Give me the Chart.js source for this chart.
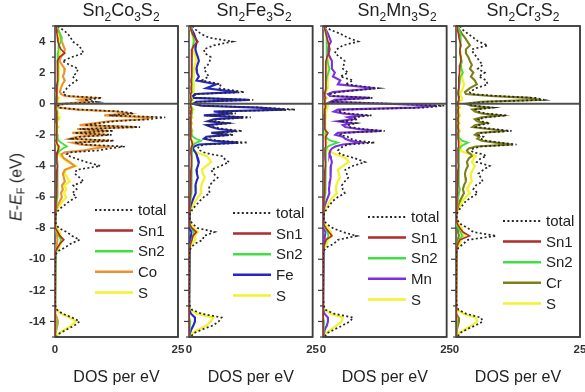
<!DOCTYPE html>
<html><head><meta charset="utf-8">
<script src="https://cdn.jsdelivr.net/npm/chart.js@4.4.1/dist/chart.umd.min.js"></script>
<style>
html,body{margin:0;padding:0;background:#fff;overflow:hidden;width:585px;height:392px;}
#wrap{position:relative;width:585px;height:392px;overflow:hidden;font-family:'Liberation Sans',Arial,sans-serif;color:#222;}
canvas{position:absolute;top:0;}
.ttl{position:absolute;top:-1px;font-size:18px;line-height:22px;white-space:nowrap;transform:translateX(-50%);}
.ttl sub{font-size:12px;vertical-align:baseline;position:relative;top:5px;}
#ylab{position:absolute;left:17px;top:187px;transform:translate(-50%,-50%) rotate(-90deg);font-size:16px;white-space:nowrap;line-height:20px;}
#ylab sub{font-size:11px;vertical-align:baseline;position:relative;top:3px;}
</style></head>
<body><div id="wrap">
<canvas id="p1" width="192" height="392" style="left:0px"></canvas>
<canvas id="p2" width="150" height="392" style="left:175px"></canvas>
<canvas id="p3" width="150" height="392" style="left:309px"></canvas>
<canvas id="p4" width="160" height="392" style="left:442px"></canvas>
<div class="ttl" style="left:121px">Sn<sub>2</sub>Co<sub>3</sub>S<sub>2</sub></div>
<div class="ttl" style="left:254px">Sn<sub>2</sub>Fe<sub>3</sub>S<sub>2</sub></div>
<div class="ttl" style="left:397px">Sn<sub>2</sub>Mn<sub>3</sub>S<sub>2</sub></div>
<div class="ttl" style="left:523px">Sn<sub>2</sub>Cr<sub>3</sub>S<sub>2</sub></div>
<div id="ylab"><i>E</i>-<i>E</i><sub>F</sub> (eV)</div>
</div>
<script>
// Energy grid (eV), shared by all series
const energy = [
 5,4.75,4.5,4.25,4,3.75,3.5,3.25,3,2.75,2.5,2.25,2,1.75,1.5,1.25,1,0.75,
 0.625,0.5,0.375,0.25,0.125,0,-0.125,-0.25,-0.375,-0.5,-0.625,-0.75,-0.875,-1,-1.125,-1.25,-1.375,-1.5,-1.625,-1.75,-1.875,-2,-2.125,-2.25,-2.375,-2.5,-2.625,-2.75,-2.875,-3,-3.125,-3.25,-3.375,
 -3.5,-3.75,-4,-4.25,-4.5,-4.75,-5,-5.25,-5.5,-5.75,-6,-6.25,-6.5,-6.75,-7,-7.25,-7.5,-7.75,-8,-8.25,-8.5,-8.75,-9,-9.25,-9.5,-9.75,
 -10.5,-11.5,-12.5,-13,
 -13.25,-13.5,-13.75,-14,-14.25,-14.5,-14.75,-15];

const xTicks = [0, 25];

// ---- Sn2Co3S2 ----
const coTotal = [
 0.6,1.6,2.6,3.2,3.6,4.8,5.4,5.8,3.4,1.5,3.0,4.7,4.4,3.6,4.4,3.2,2.4,1.8,
 1.6,2.5,9.5,6.0,8.5,2.0,0.6,0.8,5.0,13.5,16.0,11.0,22.4,19.0,12.0,9.0,6.0,17.3,5.0,11.9,4.0,11.5,5.0,3.5,12.0,4.0,6.0,14.2,11.0,9.0,3.0,2.4,3.0,
 4.0,6.4,9.2,4.4,4.0,5.0,5.8,3.7,4.4,3.5,4.4,3.0,2.0,1.0,0.3,0.1,0.1,0.2,0.8,2.4,3.5,5.0,3.2,2.0,0.5,0.1,
 0,0,0,0.1,
 0.4,1.5,3.5,5.0,4.0,2.5,1.0,0.3];
const coSn1 = [
 0.2,0.3,0.4,0.5,0.6,0.8,1.2,2.0,0.9,0.5,0.5,0.6,0.6,0.5,0.5,0.4,0.4,0.3,
 0.3,0.3,0.4,0.3,0.3,0.2,0.1,0.1,0.2,0.3,0.3,0.3,0.4,0.4,0.3,0.3,0.3,0.4,0.3,0.3,0.3,0.4,0.3,0.3,0.4,0.4,0.5,0.8,0.7,0.6,0.4,0.3,0.3,
 0.3,0.4,0.5,0.4,0.3,0.3,0.3,0.3,0.3,0.3,0.3,0.2,0.2,0.1,0,0,0,0,0.2,0.6,1.0,1.8,1.0,0.5,0.1,0,
 0,0,0,0,
 0,0.05,0.1,0.15,0.1,0.05,0,0];
const coSn2 = [
 0.3,0.6,1.0,1.4,1.2,0.8,0.7,0.6,0.6,0.5,0.5,0.6,0.6,0.5,0.5,0.5,0.4,0.4,
 0.4,0.4,0.5,0.4,0.4,0.3,0.2,0.2,0.3,0.4,0.4,0.4,0.5,0.5,0.4,0.4,0.4,0.5,0.4,0.4,0.4,0.5,0.5,0.6,0.8,1.2,1.8,2.4,1.6,1.0,0.7,0.5,0.4,
 0.4,0.5,0.6,0.5,0.5,0.5,0.6,0.5,0.5,0.5,0.5,0.4,0.3,0.2,0.1,0,0,0,0.2,0.5,0.8,1.2,1.0,0.6,0.2,0,
 0,0,0,0,
 0,0.05,0.15,0.25,0.2,0.1,0.05,0];
const coCo = [
 0.3,0.7,1.0,1.2,1.4,1.7,2.0,1.8,1.2,0.9,1.4,2.0,1.9,1.6,2.0,1.5,1.2,1.0,
 1.2,2.0,7.8,5.0,6.5,1.5,0.4,0.6,4.5,12.5,15.0,10.0,19.5,18.0,11.0,8.0,5.0,16.5,4.5,11.0,3.5,10.5,4.5,3.0,11.0,3.5,5.0,10.8,8.0,6.0,2.0,1.3,1.5,
 1.8,3.0,4.0,2.0,1.6,1.8,2.0,1.4,1.6,1.2,1.4,1.0,0.6,0.3,0.1,0,0,0,0.1,0.3,0.4,0.5,0.4,0.3,0.1,0,
 0,0,0,0,
 0.05,0.2,0.4,0.6,0.5,0.3,0.1,0];
const coS = [
 0.3,0.5,0.7,0.8,0.8,0.9,1.0,0.9,0.7,0.5,0.7,0.9,0.8,0.7,0.8,0.6,0.5,0.4,
 0.3,0.4,0.8,0.6,0.7,0.3,0.1,0.1,0.3,0.6,0.7,0.5,0.9,0.8,0.5,0.4,0.3,0.7,0.3,0.5,0.3,0.5,0.3,0.3,0.6,0.3,0.4,0.9,0.8,0.8,0.6,0.8,1.2,
 1.6,2.6,4.2,2.2,2.0,2.5,3.0,1.9,2.3,1.8,2.3,1.6,1.0,0.5,0.1,0,0,0.1,0.4,0.9,1.2,1.4,1.2,0.8,0.3,0,
 0,0,0,0,
 0.3,1.2,3.0,4.2,3.4,2.1,0.8,0.2];

// ---- Sn2Fe3S2 ----
const feTotal = [
 0.7,1.4,2.4,4.0,8.8,5.0,3.0,3.2,4.4,4.2,3.8,3.0,3.5,4.0,2.6,6.5,6.0,11.2,
 1.5,1.0,1.2,13.0,2.0,1.0,3.0,15.0,21.5,6.0,9.5,3.5,12.5,5.8,4.4,8.5,4.0,5.0,7.0,10.8,5.0,9.0,4.0,3.5,6.0,11.9,3.0,2.0,1.8,2.2,3.0,4.5,6.8,
 7.0,8.1,6.4,4.5,5.0,5.8,4.8,4.2,4.0,4.2,3.0,2.2,1.5,0.8,0.3,0.1,0.2,0.8,1.8,5.2,3.0,2.8,1.2,0.4,0.1,0,
 0,0,0,0.2,
 0.6,2.5,6.6,6.0,4.9,2.8,1.0,0.3];
const feSn1 = [
 0.2,0.4,0.7,1.2,1.8,1.0,0.6,0.5,0.6,0.6,0.5,0.5,0.5,0.5,0.4,0.5,0.4,0.5,
 0.3,0.3,0.3,0.5,0.3,0.2,0.3,0.4,0.5,0.3,0.4,0.3,0.4,0.3,0.3,0.4,0.3,0.3,0.4,0.4,0.3,0.4,0.3,0.4,0.5,0.6,0.7,0.5,0.4,0.4,0.4,0.4,0.5,
 0.5,0.5,0.5,0.4,0.4,0.4,0.3,0.3,0.3,0.3,0.2,0.2,0.1,0.1,0,0,0,0.2,0.6,1.5,0.8,0.6,0.3,0.1,0,0,
 0,0,0,0,
 0,0.05,0.1,0.15,0.1,0.05,0,0];
const feSn2 = [
 0.3,0.5,0.7,0.9,1.0,0.8,0.6,0.6,0.6,0.6,0.6,0.5,0.5,0.6,0.5,0.6,0.5,0.6,
 0.4,0.4,0.4,0.6,0.4,0.3,0.3,0.5,0.6,0.4,0.5,0.4,0.5,0.4,0.4,0.5,0.4,0.4,0.5,0.5,0.5,0.6,0.8,1.4,2.4,1.5,0.9,0.7,0.6,0.5,0.5,0.5,0.5,
 0.5,0.6,0.6,0.5,0.5,0.5,0.5,0.5,0.5,0.5,0.4,0.3,0.2,0.1,0,0,0,0.2,0.5,1.0,0.8,0.6,0.3,0.1,0,0,
 0,0,0,0,
 0,0.05,0.2,0.25,0.2,0.1,0.05,0];
const feFe = [
 0.3,0.6,1.0,1.3,1.6,1.4,1.3,1.5,1.8,2.0,1.7,1.5,1.6,2.0,1.5,5.5,3.5,9.8,
 1.2,0.8,1.0,12.0,1.5,0.8,2.5,14.0,19.5,5.0,8.5,3.0,11.0,5.0,3.8,7.5,3.5,4.5,6.0,9.5,4.5,8.0,3.5,3.0,5.0,10.0,2.0,1.0,0.8,1.0,1.3,1.5,1.6,
 1.8,2.0,1.8,1.5,1.6,1.8,1.5,1.3,1.3,1.4,1.0,0.7,0.4,0.2,0.1,0,0,0.1,0.2,0.5,0.4,0.3,0.2,0.1,0,0,
 0,0,0,0,
 0.1,0.4,1.2,1.2,0.9,0.5,0.2,0.05];
const feS = [
 0.2,0.4,0.6,0.8,1.0,0.9,0.9,1.1,1.3,1.4,1.2,1.0,0.9,1.0,0.8,1.0,0.9,1.0,
 0.4,0.3,0.3,0.8,0.3,0.2,0.3,0.7,0.9,0.4,0.6,0.3,0.7,0.4,0.4,0.6,0.4,0.4,0.5,0.7,0.4,0.6,0.4,0.4,0.6,0.9,0.5,0.6,0.7,0.9,1.4,2.5,3.6,
 4.0,4.5,3.5,2.6,2.8,3.2,2.8,2.5,2.4,2.5,1.8,1.3,0.9,0.5,0.1,0,0.1,0.4,1.0,1.8,1.2,1.3,0.6,0.2,0,0,
 0,0,0,0,
 0.3,1.6,4.9,4.4,3.6,2.0,0.7,0.2];

// ---- Sn2Mn3S2 ----
const mnTotal = [
 0.5,1.5,3.5,5.0,7.1,4.0,2.8,2.4,3.4,4.4,4.2,4.0,5.1,3.5,6.1,4.5,11.2,3.0,
 1.5,2.0,10.0,3.0,2.0,14.0,24.5,20.5,4.0,3.0,5.0,9.8,6.0,7.0,4.0,6.8,5.0,5.5,8.0,12.5,4.0,3.5,5.0,5.5,7.0,10.5,5.0,4.0,3.5,3.0,3.2,3.5,5.0,
 6.4,8.5,6.0,4.5,4.8,5.1,4.4,3.8,4.0,4.4,3.0,2.0,1.4,0.8,0.3,0.1,0.2,0.8,2.0,4.0,6.8,3.0,2.2,0.6,0.1,0,
 0,0,0,0.2,
 0.5,2.2,6.1,5.4,4.0,2.4,0.9,0.3];
const mnSn1 = [
 0.2,0.4,0.6,0.8,1.0,1.2,1.4,1.2,0.8,0.6,0.6,0.6,0.6,0.5,0.5,0.5,0.6,0.4,
 0.3,0.3,0.5,0.3,0.3,0.4,0.5,0.5,0.3,0.3,0.3,0.4,0.3,0.4,0.3,0.4,0.3,0.4,0.4,0.6,1.0,0.8,0.5,0.5,0.6,0.6,0.5,0.5,0.4,0.4,0.4,0.4,0.4,
 0.4,0.5,0.5,0.4,0.4,0.4,0.3,0.3,0.3,0.3,0.2,0.2,0.1,0.1,0,0,0,0.2,0.6,1.2,1.8,0.6,0.3,0.1,0,0,
 0,0,0,0,
 0,0.05,0.1,0.15,0.1,0.05,0,0];
const mnSn2 = [
 0.3,0.5,0.7,0.8,0.8,0.7,0.7,0.7,0.8,0.9,1.1,1.3,1.1,0.8,0.7,0.6,0.7,0.5,
 0.4,0.4,0.5,0.4,0.4,0.4,0.5,0.5,0.4,0.3,0.4,0.4,0.4,0.4,0.4,0.4,0.4,0.4,0.4,0.5,0.5,0.6,0.7,0.9,1.6,3.0,1.8,1.0,0.7,0.6,0.5,0.5,0.5,
 0.5,0.6,0.6,0.5,0.5,0.5,0.5,0.5,0.5,0.5,0.4,0.3,0.2,0.1,0,0,0,0.2,0.5,0.9,1.1,0.7,0.4,0.1,0,0,
 0,0,0,0,
 0,0.05,0.2,0.25,0.2,0.1,0.05,0];
const mnMn = [
 0.2,0.6,1.0,1.3,1.6,1.2,1.0,1.0,1.4,1.8,1.8,1.8,2.4,2.0,3.5,3.0,10.6,2.0,
 1.0,1.4,9.5,2.4,1.5,13.0,23.0,18.5,3.0,2.2,4.0,8.0,5.0,6.0,3.0,5.8,4.0,4.5,7.0,11.8,3.0,2.5,4.0,4.5,5.5,8.0,4.0,2.5,1.8,1.5,1.4,1.3,1.5,
 1.6,1.8,1.6,1.5,1.6,1.5,1.4,1.3,1.2,1.3,1.0,0.7,0.4,0.2,0.1,0,0,0.1,0.2,0.5,0.4,0.3,0.2,0.1,0,0,
 0,0,0,0,
 0.1,0.3,1.0,1.0,0.8,0.4,0.2,0.05];
const mnS = [
 0.2,0.4,0.6,0.8,1.0,0.9,1.0,1.1,1.2,1.1,1.0,1.0,1.0,0.9,1.0,0.9,1.0,0.6,
 0.4,0.4,0.8,0.4,0.3,0.6,1.0,0.9,0.3,0.3,0.4,0.6,0.5,0.5,0.4,0.5,0.4,0.4,0.5,0.7,0.4,0.4,0.5,0.5,0.6,0.8,0.6,0.6,0.8,1.0,1.6,2.6,3.6,
 4.6,5.2,4.0,3.0,3.2,3.4,3.0,2.7,2.6,2.8,2.0,1.4,1.0,0.5,0.1,0,0.1,0.4,1.0,1.6,1.8,1.0,0.8,0.3,0,0,
 0,0,0,0,
 0.3,1.5,4.0,3.8,2.8,1.7,0.6,0.2];

// ---- Sn2Cr3S2 ----
const crTotal = [
 0.8,1.4,2.4,3.5,4.5,6.4,3.2,3.5,4.2,4.7,5.4,4.4,5.8,4.6,6.1,6.4,4.0,2.8,
 3.0,8.5,16.0,17.8,6.0,2.5,3.5,7.5,4.0,4.5,6.0,10.2,6.0,4.5,5.0,6.8,4.5,4.0,7.5,11.2,5.0,4.5,5.5,5.0,6.0,9.0,12.2,5.0,3.5,3.0,3.5,5.5,6.1,
 5.0,4.2,6.8,5.5,4.5,5.0,5.4,4.0,3.5,4.4,3.2,2.0,1.4,0.8,0.3,0.1,0.3,1.0,2.4,3.5,8.1,2.4,1.5,0.5,0.1,0,
 0,0,0,0.2,
 0.5,2.0,5.0,5.4,4.0,2.2,0.8,0.3];
const crSn1 = [
 0.2,0.3,0.5,0.6,0.8,1.0,0.8,0.8,1.0,1.0,0.8,0.7,0.7,0.6,0.6,0.6,0.5,0.4,
 0.4,0.5,0.6,0.6,0.4,0.3,0.4,0.5,0.4,0.4,0.4,0.5,0.4,0.4,0.4,0.5,0.4,0.4,0.4,0.5,0.4,0.4,0.4,0.4,0.5,0.5,0.6,0.5,0.4,0.4,0.4,0.4,0.4,
 0.4,0.4,0.5,0.4,0.4,0.4,0.3,0.3,0.3,0.3,0.2,0.2,0.1,0.1,0,0,0,0.3,0.8,1.4,2.7,0.8,0.4,0.1,0,0,
 0,0,0,0,
 0,0.05,0.1,0.15,0.1,0.05,0,0];
const crSn2 = [
 0.3,0.6,0.9,1.0,0.9,0.8,0.8,0.8,0.9,1.2,1.0,1.1,1.4,0.9,0.8,0.7,0.6,0.5,
 0.5,0.5,0.6,0.6,0.5,0.4,0.4,0.5,0.4,0.4,0.5,0.5,0.5,0.4,0.4,0.5,0.4,0.4,0.5,0.5,0.5,0.5,0.6,0.8,1.2,2.4,1.6,1.0,0.7,0.6,0.6,0.5,0.5,
 0.5,0.6,0.6,0.6,0.6,0.6,0.6,0.6,0.8,0.6,0.5,0.4,0.3,0.2,0,0,0,0.2,0.5,0.9,1.3,0.6,0.4,0.1,0,0,
 0,0,0,0,
 0,0.05,0.2,0.25,0.2,0.1,0.05,0];
const crCr = [
 0.3,0.7,1.2,1.8,2.3,2.8,2.0,2.0,2.5,2.8,3.2,2.8,3.5,3.0,3.8,4.2,2.8,1.8,
 2.0,7.0,14.9,16.6,5.0,2.0,3.0,6.8,3.3,3.8,5.2,9.0,5.2,3.8,4.3,6.0,3.8,3.3,6.5,10.0,4.3,3.8,4.7,4.3,5.2,8.0,11.2,4.0,2.6,2.2,2.4,3.0,3.2,
 2.6,2.2,2.4,2.0,1.8,1.9,2.0,1.6,1.4,1.6,1.2,0.8,0.5,0.3,0.1,0,0,0.1,0.3,0.4,0.6,0.3,0.2,0.1,0,0,
 0,0,0,0,
 0.05,0.2,0.5,0.6,0.4,0.2,0.1,0];
const crS = [
 0.2,0.4,0.6,0.7,0.8,0.9,0.8,0.9,1.0,1.0,1.1,1.0,1.1,1.2,1.4,1.6,1.4,1.0,
 0.8,1.0,1.2,1.2,0.6,0.4,0.6,0.8,0.5,0.5,0.6,0.8,0.6,0.5,0.6,0.7,0.5,0.5,0.6,0.8,0.5,0.5,0.6,0.6,0.7,0.9,1.0,0.8,0.8,1.0,1.6,3.2,4.0,
 3.6,3.2,3.8,3.4,3.0,3.0,3.2,2.6,2.2,2.8,2.0,1.3,0.9,0.5,0.1,0,0.1,0.5,1.2,1.2,1.8,1.0,0.8,0.3,0,0,
 0,0,0,0,
 0.3,1.5,4.0,4.3,3.2,1.8,0.6,0.2];

// ---- styles ----
const FONT = "'Liberation Sans', Arial, sans-serif";
const styleTotal = {color:'#262626', width:1.7, dash:[2,2.4]};
const styleSn1 = {color:'#b22a2a', width:1.6};
const styleSn2 = {color:'#3fe03f', width:1.8};
const styleS = {color:'#f4f22a', width:2.2};

const panels = [
 {id:'p1', series:[coTotal,coSn1,coSn2,coCo,coS], tm:'Co', tmColor:'#ea922f', yLabels:true,  yWidth:55, padRight:14, lx:40, ly:184},
 {id:'p2', series:[feTotal,feSn1,feSn2,feFe,feS], tm:'Fe', tmColor:'#2626c4', yLabels:false, yWidth:14, padRight:12, lx:44, ly:187},
 {id:'p3', series:[mnTotal,mnSn1,mnSn2,mnMn,mnS], tm:'Mn', tmColor:'#7b2fe4', yLabels:false, yWidth:14, padRight:12, lx:45, ly:191},
 {id:'p4', series:[crTotal,crSn1,crSn2,crCr,crS], tm:'Cr', tmColor:'#7f7f16', yLabels:false, yWidth:14, padRight:22, lx:47, ly:195}
];

const decor = {
  id:'decor',
  beforeDatasetsDraw(chart) {
    const {ctx, chartArea:a, scales:{y}} = chart;
    ctx.save();
    // frame
    ctx.strokeStyle = '#3c3c3c'; ctx.lineWidth = 1.5;
    ctx.strokeRect(a.left, a.top, a.right - a.left, a.bottom - a.top);
    // y tick marks (major even, minor odd)
    ctx.lineWidth = 1.2;
    y.ticks.forEach(t => {
      const py = y.getPixelForValue(t.value);
      const len = (Math.round(t.value) % 2 === 0) ? 5 : 3;
      ctx.beginPath(); ctx.moveTo(a.left - len, py); ctx.lineTo(a.left, py); ctx.stroke();
    });
    ctx.restore();
  },
  afterDatasetsDraw(chart, args, opts) {
    const {ctx, chartArea:a, scales:{y}} = chart;
    ctx.save();
    // Fermi level line
    const y0 = y.getPixelForValue(0);
    ctx.strokeStyle = '#505050'; ctx.lineWidth = 2;
    ctx.beginPath(); ctx.moveTo(a.left, y0); ctx.lineTo(a.right, y0); ctx.stroke();
    // right/top frame edges over the data
    ctx.strokeStyle = '#3c3c3c'; ctx.lineWidth = 1.5;
    ctx.beginPath(); ctx.moveTo(a.left, a.top); ctx.lineTo(a.right, a.top); ctx.lineTo(a.right, a.bottom); ctx.lineTo(a.left, a.bottom); ctx.stroke();
    // legend
    (opts.items || []).forEach((it, k) => {
      const yy = a.top + opts.dy + k * 20.6;
      ctx.strokeStyle = it.color; ctx.lineWidth = it.lw; ctx.setLineDash(it.dash || []);
      ctx.beginPath(); ctx.moveTo(a.left + opts.dx, yy); ctx.lineTo(a.left + opts.dx + 38, yy); ctx.stroke();
      ctx.setLineDash([]);
      ctx.fillStyle = '#222'; ctx.font = '15px ' + FONT;
      ctx.textAlign = 'left'; ctx.textBaseline = 'middle';
      ctx.fillText(it.label, a.left + opts.dx + 43, yy + 1);
    });
    ctx.restore();
  }
};

function makeDs(arr, st, label) {
  return {
    label: label,
    data: arr.map((v, i) => ({x: v, y: energy[i]})),
    showLine: true, borderColor: st.color, backgroundColor: st.color,
    borderWidth: st.width, borderDash: st.dash || [], pointRadius: 0,
    tension: 0, fill: false
  };
}

panels.forEach(p => {
  const tmStyle = {color: p.tmColor, width: 2.1};
  const styles = [styleTotal, styleSn1, styleSn2, tmStyle, styleS];
  const labels = ['total', 'Sn1', 'Sn2', p.tm, 'S'];
  const datasets = p.series.map((arr, k) => makeDs(arr, styles[k], labels[k]));
  new Chart(document.getElementById(p.id), {
    type: 'scatter',
    data: {datasets},
    options: {
      responsive: false, animation: false, events: [],
      layout: {padding: {top: 26, right: p.padRight, left: 0, bottom: 0}},
      plugins: {
        legend: {display: false}, tooltip: {enabled: false},
        decor: {
          dx: p.lx, dy: p.ly,
          items: labels.map((l, k) => ({label: l, color: styles[k].color, lw: k === 0 ? 1.8 : 2.5, dash: styles[k].dash}))
        }
      },
      scales: {
        x: {
          type: 'linear', min: xTicks[0], max: xTicks[1],
          afterBuildTicks: s => { s.ticks = xTicks.map(v => ({value: v})); },
          grid: {display: false, drawTicks: false},
          border: {display: false},
          ticks: {color: '#333', font: {family: FONT, size: 11.5, weight: 'bold'}, padding: 6, maxRotation: 0, autoSkip: false},
          title: {display: true, text: 'DOS per eV', color: '#222', font: {family: FONT, size: 16}, padding: {top: 0, bottom: 5}},
          afterFit: s => { s.height = 55; }
        },
        y: {
          type: 'linear', min: -15, max: 5,
          grid: {display: false, drawTicks: false},
          border: {display: false},
          ticks: {
            display: p.yLabels, stepSize: 1, autoSkip: false,
            callback: v => (Math.round(v) % 2 === 0 ? String(v) : ''),
            color: '#333', font: {family: FONT, size: 11.5, weight: 'bold'}, padding: 9.5
          },
          afterFit: s => { s.width = p.yWidth; }
        }
      }
    },
    plugins: [decor]
  });
});
</script>
</body></html>
